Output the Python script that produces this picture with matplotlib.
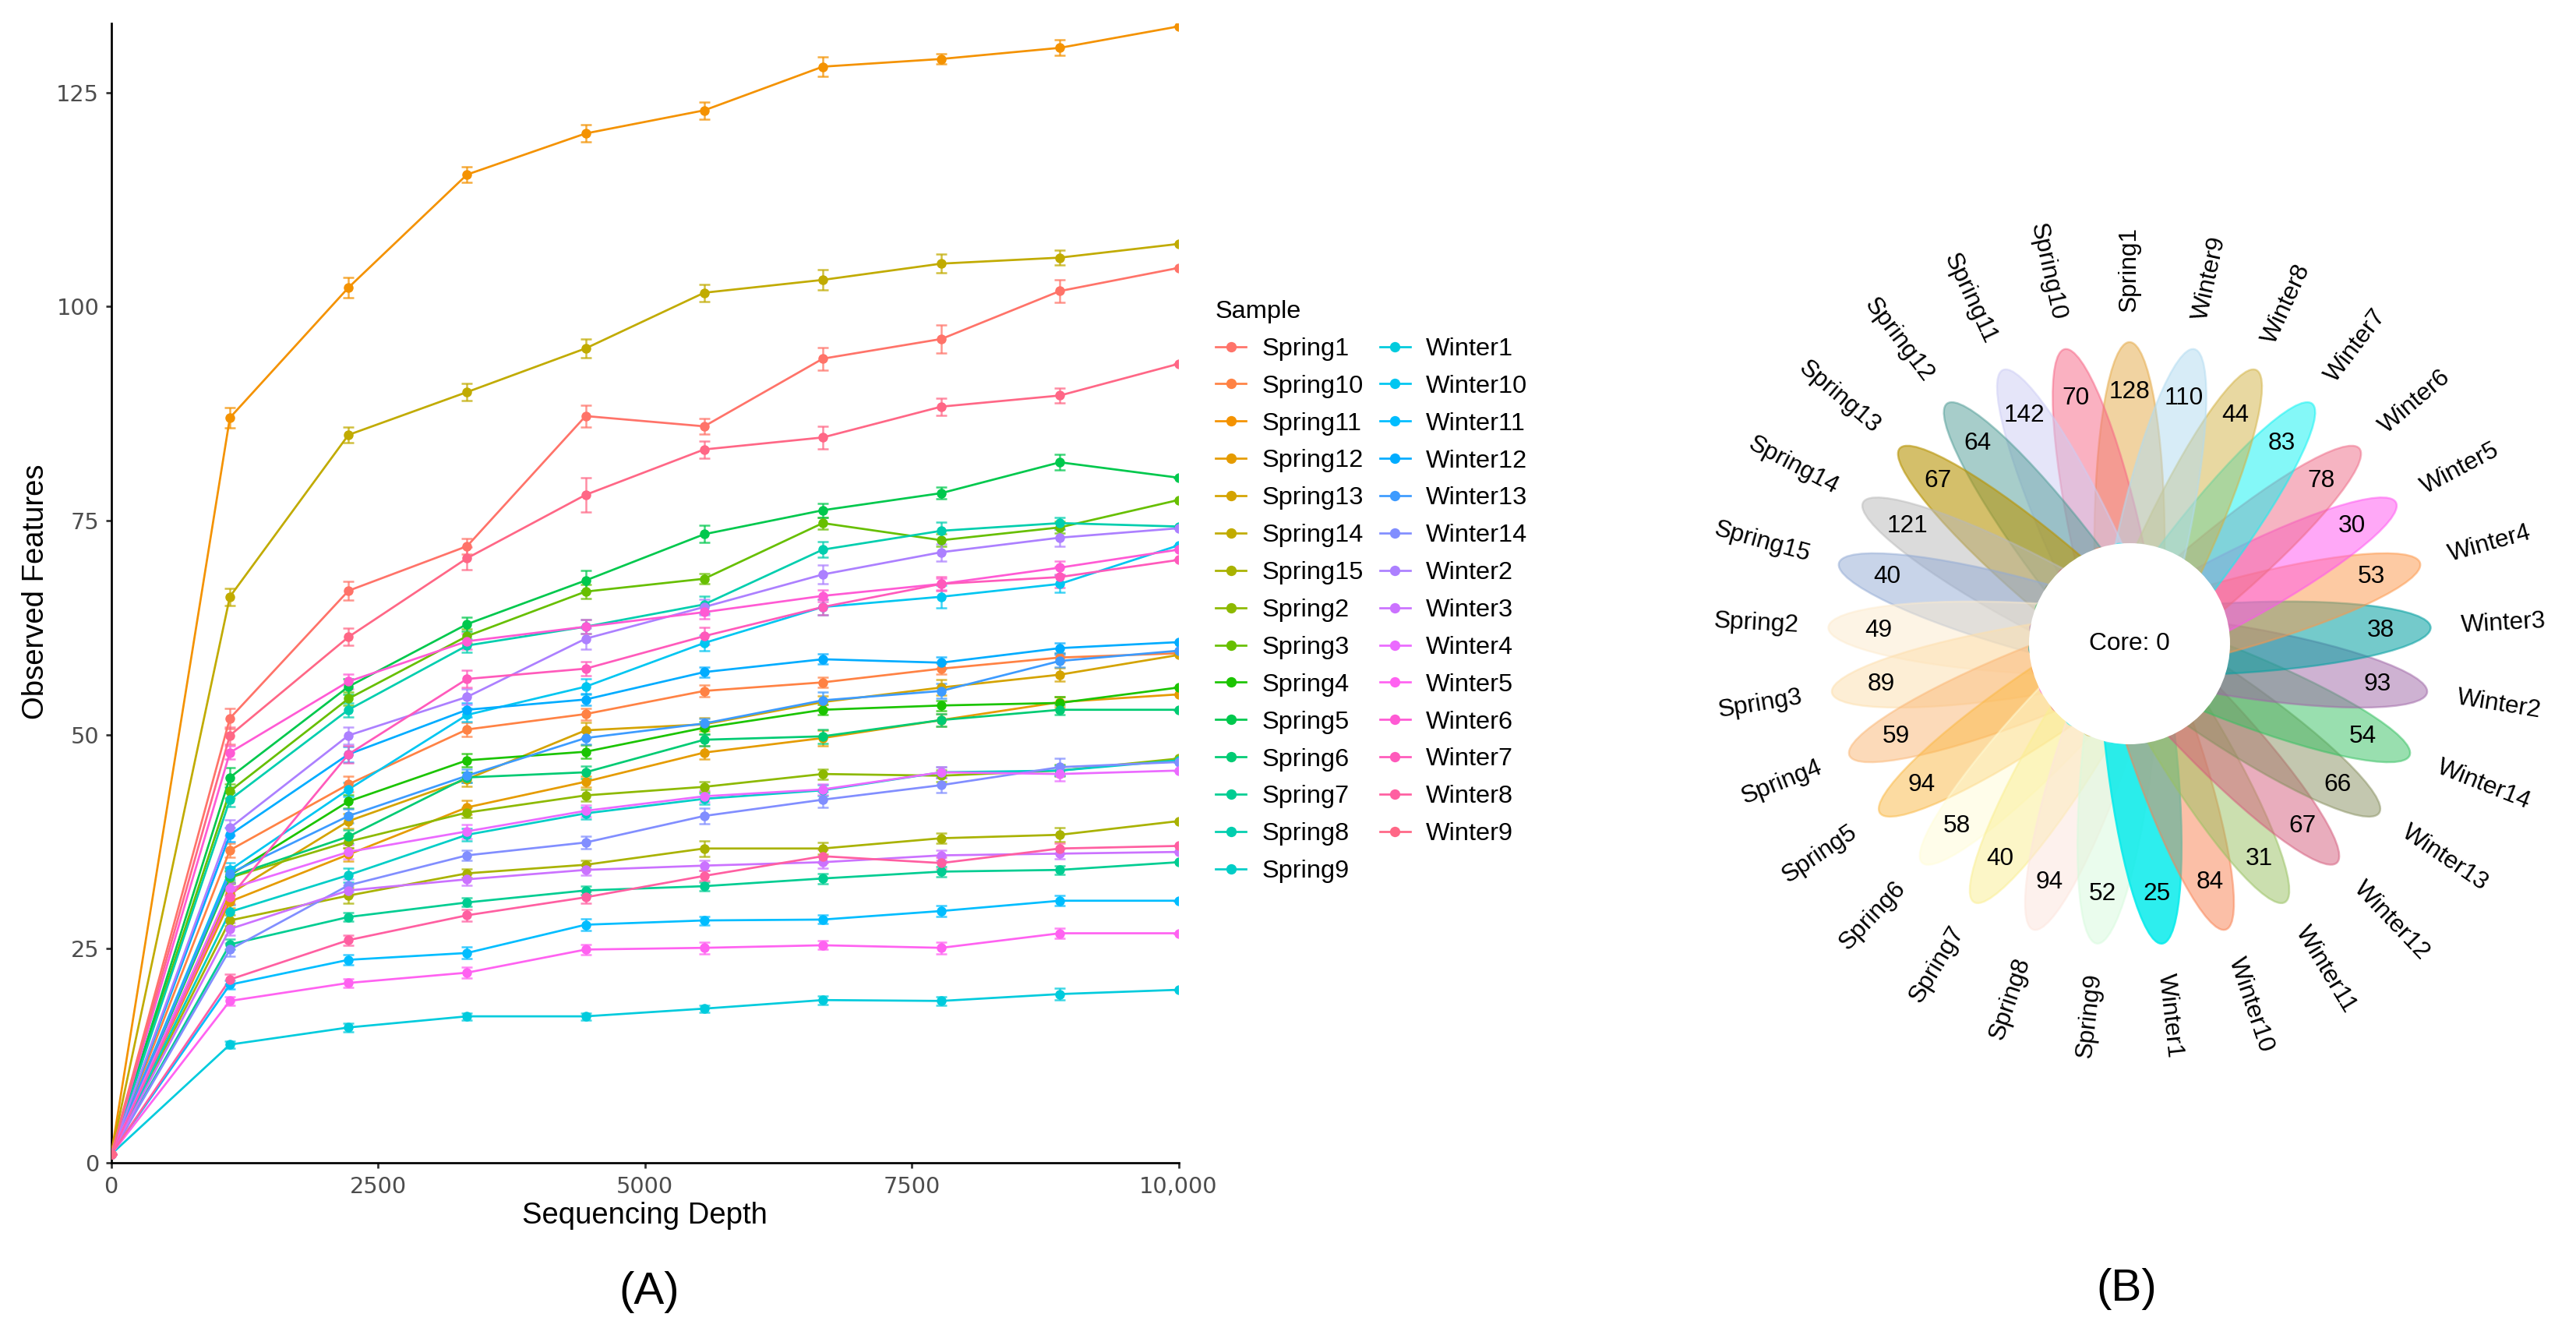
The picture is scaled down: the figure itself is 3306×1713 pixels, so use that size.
import numpy as np
import matplotlib
matplotlib.use('Agg')
import matplotlib.pyplot as plt
from matplotlib.lines import Line2D
from matplotlib.patches import Ellipse, Circle
from matplotlib.colors import to_rgb, rgb_to_hsv, hsv_to_rgb

plt.rcParams['font.family'] = ['Liberation Sans', 'DejaVu Sans']

# rarefaction depths (x) and observed features per sample
depth = [1, 1112, 2223, 3334, 4445, 5556, 6667, 7778, 8889, 10000]

samples = ['Spring1', 'Spring10', 'Spring11', 'Spring12', 'Spring13', 'Spring14', 'Spring15',
           'Spring2', 'Spring3', 'Spring4', 'Spring5', 'Spring6', 'Spring7', 'Spring8', 'Spring9',
           'Winter1', 'Winter10', 'Winter11', 'Winter12', 'Winter13', 'Winter14',
           'Winter2', 'Winter3', 'Winter4', 'Winter5', 'Winter6', 'Winter7', 'Winter8', 'Winter9']

obs = {
    'Spring1':  [1, 51.9, 66.8, 72.0, 87.2, 86.0, 93.9, 96.2, 101.8, 104.5],
    'Spring10': [1, 36.5, 44.2, 50.6, 52.4, 55.1, 56.1, 57.7, 59.0, 59.5],
    'Spring11': [1, 87.0, 102.2, 115.4, 120.2, 122.9, 128.0, 128.9, 130.2, 132.7],
    'Spring12': [1, 30.5, 36.0, 41.5, 44.5, 47.9, 49.6, 51.7, 53.8, 54.7],
    'Spring13': [1, 31.4, 39.9, 44.8, 50.5, 51.2, 53.8, 55.5, 57.0, 59.3],
    'Spring14': [1, 66.1, 85.0, 90.0, 95.1, 101.6, 103.1, 105.0, 105.7, 107.3],
    'Spring15': [1, 28.3, 31.2, 33.8, 34.8, 36.7, 36.7, 37.9, 38.3, 39.9],
    'Spring2':  [1, 33.3, 37.5, 40.9, 42.9, 43.9, 45.4, 45.2, 45.8, 47.2],
    'Spring3':  [1, 43.4, 54.2, 61.5, 66.7, 68.2, 74.7, 72.7, 74.2, 77.4],
    'Spring4':  [1, 33.6, 42.2, 47.0, 48.0, 50.8, 52.9, 53.4, 53.7, 55.5],
    'Spring5':  [1, 45.0, 55.6, 62.9, 68.0, 73.4, 76.2, 78.2, 81.8, 80.0],
    'Spring6':  [1, 33.4, 38.1, 45.0, 45.6, 49.4, 49.8, 51.7, 52.9, 52.9],
    'Spring7':  [1, 25.5, 28.7, 30.4, 31.8, 32.3, 33.2, 34.0, 34.2, 35.1],
    'Spring8':  [1, 42.4, 52.9, 60.4, 62.6, 65.2, 71.6, 73.8, 74.7, 74.3],
    'Spring9':  [1, 29.3, 33.6, 38.3, 40.8, 42.5, 43.5, 45.6, 45.8, 47.0],
    'Winter1':  [1, 13.8, 15.8, 17.1, 17.1, 18.0, 19.0, 18.9, 19.7, 20.2],
    'Winter10': [1, 34.2, 43.6, 52.3, 55.6, 60.7, 64.9, 66.1, 67.6, 72.1],
    'Winter11': [1, 20.8, 23.7, 24.5, 27.8, 28.3, 28.4, 29.4, 30.6, 30.6],
    'Winter12': [1, 38.3, 47.7, 52.9, 54.1, 57.3, 58.8, 58.4, 60.1, 60.8],
    'Winter13': [1, 33.8, 40.5, 45.2, 49.6, 51.3, 54.0, 55.1, 58.6, 59.8],
    'Winter14': [1, 24.9, 32.4, 35.9, 37.4, 40.5, 42.4, 44.1, 46.2, 46.8],
    'Winter2':  [1, 39.1, 49.9, 54.4, 61.2, 64.9, 68.7, 71.3, 73.0, 74.1],
    'Winter3':  [1, 27.3, 31.8, 33.1, 34.2, 34.7, 35.1, 35.9, 36.1, 36.3],
    'Winter4':  [1, 32.0, 36.3, 38.7, 41.1, 42.8, 43.6, 45.6, 45.4, 45.8],
    'Winter5':  [1, 18.9, 21.0, 22.2, 24.9, 25.1, 25.4, 25.1, 26.8, 26.8],
    'Winter6':  [1, 47.9, 56.2, 60.9, 62.6, 64.3, 66.2, 67.6, 69.5, 71.6],
    'Winter7':  [1, 31.0, 47.7, 56.5, 57.7, 61.5, 64.9, 67.6, 68.4, 70.4],
    'Winter8':  [1, 21.4, 26.0, 28.9, 31.0, 33.5, 35.8, 35.0, 36.7, 37.0],
    'Winter9':  [1, 49.9, 61.4, 70.6, 78.0, 83.3, 84.7, 88.3, 89.6, 93.3],
}

# standard errors (error bars)
se = {
    'Spring1':  [0, 1.2, 1.1, 0.9, 1.3, 0.9, 1.3, 1.6, 1.3, 0],
    'Spring10': [0, 0.8, 0.9, 0.8, 0.7, 0.7, 0.6, 0.6, 0.5, 0],
    'Spring11': [0, 1.2, 1.2, 0.9, 1.0, 1.0, 1.1, 0.6, 0.9, 0],
    'Spring12': [0, 0.7, 0.8, 0.8, 0.6, 0.8, 0.9, 0.7, 0.6, 0],
    'Spring13': [0, 0.7, 0.9, 0.8, 0.9, 0.8, 0.7, 0.9, 0.8, 0],
    'Spring14': [0, 1.0, 0.9, 1.0, 1.1, 1.0, 1.2, 1.1, 0.9, 0],
    'Spring15': [0, 0.6, 0.9, 0.5, 0.5, 0.9, 0.7, 0.6, 0.8, 0],
    'Spring2':  [0, 0.7, 0.7, 0.6, 0.7, 0.6, 0.6, 0.7, 0.7, 0],
    'Spring3':  [0, 0.8, 0.8, 0.8, 0.8, 0.6, 0.7, 0.7, 0.7, 0],
    'Spring4':  [0, 0.8, 0.8, 0.8, 0.8, 0.7, 0.6, 0.6, 0.7, 0],
    'Spring5':  [0, 1.1, 0.9, 0.8, 1.2, 1.0, 0.8, 0.7, 0.9, 0],
    'Spring6':  [0, 0.7, 0.8, 0.6, 0.7, 0.7, 0.8, 0.7, 0.6, 0],
    'Spring7':  [0, 0.6, 0.5, 0.5, 0.5, 0.5, 0.6, 0.6, 0.5, 0],
    'Spring8':  [0, 0.8, 0.8, 0.8, 0.8, 1.0, 0.9, 1.0, 0.7, 0],
    'Spring9':  [0, 0.8, 0.8, 0.7, 0.7, 0.6, 0.6, 0.6, 0.6, 0],
    'Winter1':  [0, 0.4, 0.5, 0.4, 0.4, 0.4, 0.5, 0.5, 0.7, 0],
    'Winter10': [0, 0.8, 0.8, 0.8, 0.9, 0.9, 0.9, 1.3, 1.0, 0],
    'Winter11': [0, 0.5, 0.6, 0.7, 0.7, 0.5, 0.5, 0.6, 0.6, 0],
    'Winter12': [0, 0.8, 0.9, 0.8, 0.7, 0.6, 0.6, 0.7, 0.6, 0],
    'Winter13': [0, 0.8, 0.8, 0.8, 0.7, 0.6, 1.0, 0.9, 0.7, 0],
    'Winter14': [0, 0.8, 0.7, 0.6, 0.7, 0.9, 0.9, 0.9, 1.0, 0],
    'Winter2':  [0, 0.9, 1.0, 0.9, 1.2, 0.9, 1.1, 1.0, 1.0, 0],
    'Winter3':  [0, 0.7, 0.6, 0.7, 0.6, 0.6, 0.7, 0.6, 0.6, 0],
    'Winter4':  [0, 0.7, 0.8, 0.8, 0.7, 0.7, 0.6, 0.6, 0.8, 0],
    'Winter5':  [0, 0.5, 0.5, 0.6, 0.6, 0.7, 0.5, 0.7, 0.6, 0],
    'Winter6':  [0, 0.8, 0.9, 0.9, 0.8, 0.8, 0.7, 0.7, 0.8, 0],
    'Winter7':  [0, 0.8, 1.0, 1.0, 0.8, 1.0, 0.9, 0.8, 1.2, 0],
    'Winter8':  [0, 0.6, 0.6, 0.7, 0.7, 0.6, 0.8, 0.7, 0.6, 0],
    'Winter9':  [0, 1.0, 1.0, 1.3, 2.0, 1.0, 1.3, 1.0, 0.9, 0],
}

# flower plot: unique features per sample (same sample order, counter-clockwise from top)
unique_counts = [128, 70, 142, 64, 67, 121, 40, 49, 89, 59, 94, 58, 40, 94, 52,
                 25, 84, 31, 67, 66, 54, 93, 38, 53, 30, 78, 83, 44, 110]
core_count = 0

petal_cols = ['#F2D4A2', '#FBB2C2', '#E6E6FA', '#A8CECB', '#D4BF6A', '#DCDCDC', '#C9D5EA',
              '#FEF5E6', '#FEEFD6', '#FDDBBA', '#FDDCA2', '#FFFEEB', '#FDF7C8', '#FEF2EE', '#EBFDEE',
              '#2DEEEE', '#FCC0A8', '#CCE0B0', '#EAAEBE', '#C4C8B0', '#9AE0B0',
              '#CFB3D3', '#74CACB', '#FECBA4', '#FFA9F8', '#F7B5C3', '#85F9F9', '#E9D9A2', '#D8EDF8']


def hcl(h, c=100.0, l=65.0):
    # ggplot2 hue palette colour (polar LUV -> sRGB)
    h = np.deg2rad(h)
    u, v = c * np.cos(h), c * np.sin(h)
    Xn, Yn, Zn = 95.047, 100.0, 108.883
    un = 4 * Xn / (Xn + 15 * Yn + 3 * Zn)
    vn = 9 * Yn / (Xn + 15 * Yn + 3 * Zn)
    Y = Yn * ((l + 16) / 116) ** 3
    up = u / (13 * l) + un
    vp = v / (13 * l) + vn
    X = 9 * Y * up / (4 * vp)
    Z = 3 * Y / vp - X / 3 - 5 * Y
    X, Y, Z = X / 100, Y / 100, Z / 100
    rgb = [3.240479 * X - 1.537150 * Y - 0.498535 * Z,
           -0.969256 * X + 1.875992 * Y + 0.041556 * Z,
           0.055648 * X - 0.204043 * Y + 1.057311 * Z]
    out = []
    for ch in rgb:
        ch = 1.055 * ch ** (1 / 2.4) - 0.055 if ch > 0.0031308 else 12.92 * ch
        out.append(min(max(ch, 0), 1))
    # the reference image is a bit more vivid than plain ggplot colours
    hsv = rgb_to_hsv(np.array(out))
    hsv[1] = min(1.0, hsv[1] * 1.05)
    hsv[2] = min(1.0, hsv[2] * 1.07)
    return tuple(hsv_to_rgb(hsv))


n = len(samples)
line_cols = [hcl(15 + 360.0 / n * i) for i in range(n)]

W, H, DPI = 3306, 1713, 300
fig = plt.figure(figsize=(W / DPI, H / DPI), dpi=DPI)
fig.patch.set_facecolor('white')

def fx(px):
    return px / W

def fy(py):
    return 1 - py / H

# ---------------- panel A ----------------
ax_l, ax_r, ax_t, ax_b = 142.7, 1512.5, 29.5, 1492.0
ax = fig.add_axes([fx(ax_l), fy(ax_b), (ax_r - ax_l) / W, (ax_b - ax_t) / H])

for name, col in zip(samples, line_cols):
    ax.errorbar(depth, obs[name], yerr=se[name], fmt='none', ecolor=col, elinewidth=0.6,
                capsize=1.6, capthick=0.6, alpha=0.75, zorder=2)
for name, col in zip(samples, line_cols):
    ax.plot(depth, obs[name], color=col, lw=0.65, zorder=3)
for name, col in zip(samples, line_cols):
    ax.plot(depth, obs[name], ls='none', marker='o', ms=3.0, mew=0, color=col, zorder=4)

ax.set_xlim(0, 10000)
ax.set_ylim(0, 133.1)
ax.set_xticks([0, 2500, 5000, 7500, 10000])
ax.set_xticklabels(['0', '2500', '5000', '7500', '10,000'])
ax.set_yticks([0, 25, 50, 75, 100, 125])
for s in ['top', 'right']:
    ax.spines[s].set_visible(False)
for s in ['left', 'bottom']:
    ax.spines[s].set_linewidth(0.65)
ax.tick_params(length=1.7, width=0.65, color='#333333', labelcolor='#4D4D4D', labelsize=6.9)
ax.tick_params(axis='x', pad=2.4)
ax.tick_params(axis='y', pad=2.0)
for lab in ax.get_xticklabels() + ax.get_yticklabels():
    lab.set_family('DejaVu Sans')

fig.text(fx(46), fy(759), 'Observed Features', rotation=90, ha='center', va='center', fontsize=9.2)
fig.text(fx(827), fy(1560), 'Sequencing Depth', ha='center', va='center', fontsize=9.2)
fig.text(fx(833), fy(1658), '(A)', ha='center', va='center', fontsize=14)

handles = [Line2D([], [], color=c, lw=0.65, marker='o', ms=3.2, mew=0) for c in line_cols]
fig.legend(handles, samples, ncol=2, loc='upper left', bbox_to_anchor=(fx(1560), fy(385)),
           frameon=False, title='Sample', fontsize=7.8, title_fontsize=7.8,
           handlelength=1.2, handletextpad=0.62, columnspacing=0.65, labelspacing=0.55,
           borderpad=0, borderaxespad=0, alignment='left')

# ---------------- panel B (flower) ----------------
cx, cy, unit = 2733.0, 826.0, 129.0
half = 4.5 * unit
axb = fig.add_axes([fx(cx - half), fy(cy + half), 2 * half / W, 2 * half / H])
axb.set_xlim(-4.5, 4.5)
axb.set_ylim(-4.5, 4.5)
axb.set_aspect('equal')
axb.axis('off')

step = 360.0 / n
for t, (name, cnt, pc) in enumerate(zip(samples, unique_counts, petal_cols)):
    ang = 90 + step * t
    rad = np.deg2rad(ang)
    rgb = np.array(to_rgb(pc))
    alpha = max(0.5, min(0.9, 1 - rgb.min() + 0.02))
    base = np.clip(1 - (1 - rgb) / alpha, 0, 1)
    axb.add_patch(Ellipse((np.cos(rad), np.sin(rad)), width=4, height=0.7, angle=ang,
                          facecolor=(*base, alpha), edgecolor=(*base, alpha), lw=0.6, zorder=2))
    axb.text(2.5 * np.cos(rad), 2.5 * np.sin(rad), str(cnt), ha='center', va='center',
             fontsize=7.6, zorder=5)
    rot = step * t
    if 0 < rot < 180:
        axb.text(3.3 * np.cos(rad), 3.3 * np.sin(rad), name, rotation=rot - 90,
                 rotation_mode='anchor', ha='right', va='center', fontsize=7.6)
    else:
        axb.text(3.3 * np.cos(rad), 3.3 * np.sin(rad), name, rotation=rot + 90,
                 rotation_mode='anchor', ha='left', va='center', fontsize=7.6)

axb.add_patch(Circle((0, 0), 1.0, facecolor='white', edgecolor='none', zorder=4))
axb.text(0, 0, 'Core: %d' % core_count, ha='center', va='center', fontsize=7.6, zorder=5)

fig.text(fx(2729), fy(1654), '(B)', ha='center', va='center', fontsize=14)

fig.savefig('out.png', dpi=DPI, facecolor='white')
